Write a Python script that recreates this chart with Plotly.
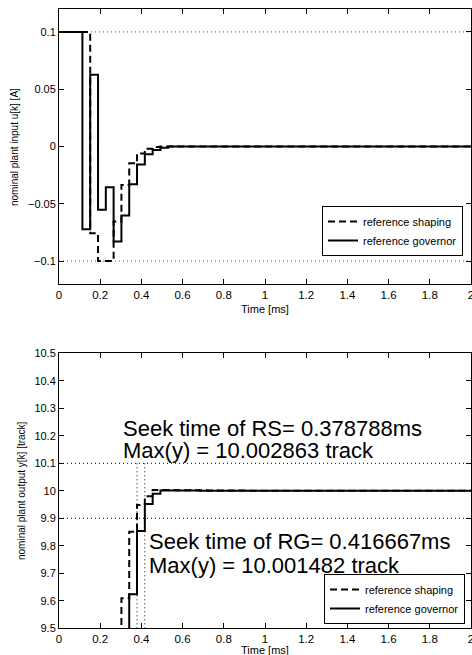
import numpy as np
import plotly.graph_objects as go

# ---------------- data ----------------
Ts = 1 / 26.4          # sampling period [ms]
t_end = 2.0            # [ms]

# nominal plant input u[k] [A], one value per sample k = 0, 1, 2, ...
u_shaping = [0.1, 0.1, 0.1, 0.1, -0.0757, -0.1, -0.1, -0.0655, -0.0335,
             -0.0146, -0.0060, -0.0020, -0.0005, 0.0]
u_governor = [0.1, 0.1, 0.1, -0.0722, 0.0626, -0.0553, -0.0355, -0.0830,
              -0.0603, -0.0329, -0.0157, -0.0067, -0.0030, -0.0010, 0.0]
u_limits = [0.1, -0.1]

# nominal plant output y[k] [track], starting at sample k0
y_shaping_k0 = 7
y_shaping = [9.30, 9.609, 9.851, 9.948, 9.980, 10.0029, 10.0027, 10.0025,
             10.0023, 10.0021, 10.0019, 10.0017, 10.0015, 10.0013, 10.0011,
             10.0009, 10.0007, 10.0005, 10.0004, 10.0003, 10.0002, 10.0001, 10.0]
y_governor_k0 = 8
y_governor = [9.35, 9.624, 9.854, 9.952, 9.989, 10.0015, 10.0013, 10.0011,
              10.0009, 10.0007, 10.0005, 10.0003, 10.0002, 10.0001, 10.0]
y_band = [9.9, 10.1]

seek_rs = 0.378788
seek_rg = 0.416667
max_rs = 10.002863
max_rg = 10.001482

names = ["reference shaping", "reference governor"]
x_ticks = [0, 0.2, 0.4, 0.6, 0.8, 1, 1.2, 1.4, 1.6, 1.8, 2]

# ---------------- helpers ----------------
n_total = int(np.ceil(t_end / Ts)) + 1


def series(values, k0=0):
    vals = list(values) + [values[-1]] * (n_total - k0 - len(values))
    t = (np.arange(len(vals)) + k0) * Ts
    return t, vals


FONT = "Liberation Sans, Arial, Helvetica, sans-serif"
W, H = 472, 655


def px_x(p):
    return p / W


def px_y(p):
    return 1 - p / H


fig = go.Figure()

dash_style = "7px,4px"

t, v = series(u_shaping)
fig.add_trace(go.Scatter(x=t, y=v, mode="lines", line_shape="hv", name=names[0],
                         line=dict(color="black", width=2, dash=dash_style),
                         xaxis="x", yaxis="y", legend="legend"))
t, v = series(u_governor)
fig.add_trace(go.Scatter(x=t, y=v, mode="lines", line_shape="hv", name=names[1],
                         line=dict(color="black", width=2),
                         xaxis="x", yaxis="y", legend="legend"))

t, v = series(y_shaping, y_shaping_k0)
fig.add_trace(go.Scatter(x=t, y=v, mode="lines", line_shape="hv", name=names[0],
                         line=dict(color="black", width=2, dash=dash_style),
                         xaxis="x2", yaxis="y2", legend="legend2"))
t, v = series(y_governor, y_governor_k0)
fig.add_trace(go.Scatter(x=t, y=v, mode="lines", line_shape="hv", name=names[1],
                         line=dict(color="black", width=2),
                         xaxis="x2", yaxis="y2", legend="legend2"))

dot = dict(color="black", width=1, dash="1px,3px")
for lim in u_limits:
    fig.add_shape(type="line", xref="x domain", x0=0, x1=1, yref="y", y0=lim, y1=lim,
                  line=dict(color="#555555", width=1, dash="1px,3px"), layer="below")
for b in y_band:
    fig.add_shape(type="line", xref="x2 domain", x0=0, x1=1, yref="y2", y0=b, y1=b,
                  line=dot, layer="below")
for s in (seek_rs, seek_rg):
    fig.add_shape(type="line", xref="x2", x0=s, x1=s, yref="y2", y0=9.5, y1=y_band[1],
                  line=dot, layer="below")

axis_common = dict(showline=True, linecolor="black", linewidth=1, mirror="ticks",
                   ticks="inside", ticklen=5, tickcolor="black", showgrid=False,
                   zeroline=False, automargin=False,
                   tickfont=dict(family=FONT, size=11, color="black"))
xfont = dict(family=FONT, size=11.5, color="black")

xdom = [px_x(59), px_x(471)]
fig.update_layout(
    width=W, height=H,
    margin=dict(l=0, r=0, t=0, b=0),
    paper_bgcolor="white", plot_bgcolor="white",
    font=dict(family=FONT, color="black"),
    xaxis=dict(domain=xdom, range=[0, 2], tickvals=x_ticks, anchor="y",
               ticklabeloverflow="allow",
               **{**axis_common, "tickfont": xfont}),
    yaxis=dict(domain=[px_y(284), px_y(9)], range=[-0.12, 0.12], dtick=0.05,
               tick0=0, anchor="x", **axis_common),
    xaxis2=dict(domain=xdom, range=[0, 2], tickvals=x_ticks, anchor="y2",
                ticklabeloverflow="allow",
                **{**axis_common, "tickfont": xfont}),
    yaxis2=dict(domain=[px_y(628.3), px_y(353.3)], range=[9.5, 10.5], dtick=0.1,
                tick0=9.5, anchor="x2", **axis_common),
    legend=dict(x=px_x(463), xanchor="right", y=px_y(256), yanchor="bottom",
                bgcolor="white", bordercolor="black", borderwidth=1,
                font=dict(family=FONT, size=11, color="black"),
                tracegroupgap=0, itemwidth=30),
    legend2=dict(x=px_x(465), xanchor="right", y=px_y(624), yanchor="bottom",
                 bgcolor="white", bordercolor="black", borderwidth=1,
                 font=dict(family=FONT, size=11, color="black"),
                 tracegroupgap=0, itemwidth=30),
    showlegend=True,
)

ann = []
# axis titles
ann.append(dict(text="Time [ms]", xref="paper", yref="paper", x=px_x(265), y=px_y(309),
                xanchor="center", yanchor="middle", showarrow=False, font=dict(size=11)))
ann.append(dict(text="Time [ms]", xref="paper", yref="paper", x=px_x(265), y=px_y(650),
                xanchor="center", yanchor="middle", showarrow=False, font=dict(size=11)))
ann.append(dict(text="nominal plant input u[k] [A]", xref="paper", yref="paper",
                x=px_x(15), y=px_y(147), xanchor="center", yanchor="middle",
                textangle=-90, showarrow=False, font=dict(size=10)))
ann.append(dict(text="nominal plant output y[k] [track]", xref="paper", yref="paper",
                x=px_x(21), y=px_y(491), xanchor="center", yanchor="middle",
                textangle=-90, showarrow=False, font=dict(size=10)))
# seek-time texts
big = dict(size=22)
ann.append(dict(text=f"Seek time of RS= {seek_rs:.6f}ms", xref="x2", yref="y2",
                x=0.3, y=10.228, xanchor="left", yanchor="middle", showarrow=False, font=big))
ann.append(dict(text=f"Max(y) = {max_rs:.6f} track", xref="x2", yref="y2",
                x=0.3, y=10.145, xanchor="left", yanchor="middle", showarrow=False, font=big))
ann.append(dict(text=f"Seek time of RG= {seek_rg:.6f}ms", xref="x2", yref="y2",
                x=0.427, y=9.815, xanchor="left", yanchor="middle", showarrow=False, font=big))
ann.append(dict(text=f"Max(y) = {max_rg:.6f} track", xref="x2", yref="y2",
                x=0.427, y=9.730, xanchor="left", yanchor="middle", showarrow=False, font=big))
fig.update_layout(annotations=ann)

fig.write_html(
    "out.html",
    config={"displayModeBar": False},
    post_script="document.body.style.margin='0';document.body.style.overflow='hidden';",
)
